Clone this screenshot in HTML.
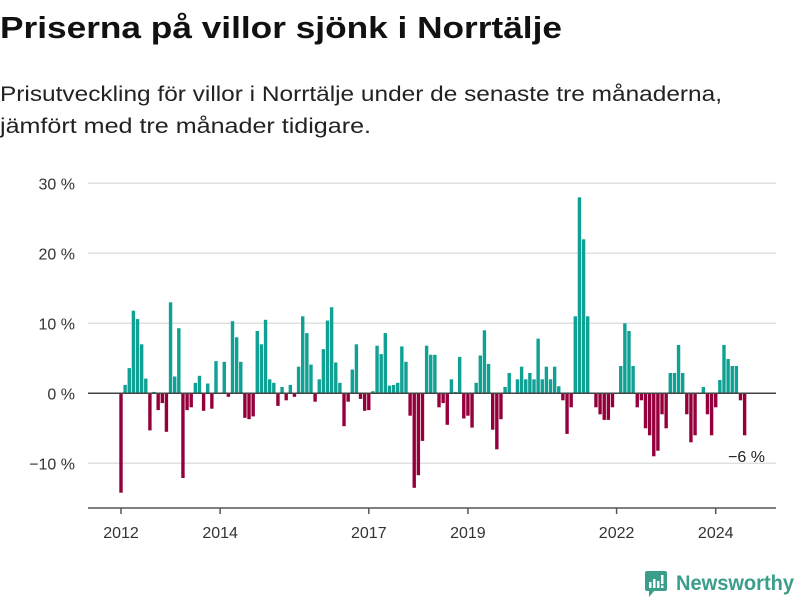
<!DOCTYPE html>
<html><head><meta charset="utf-8"><style>
html,body{margin:0;padding:0;background:#fff;}
svg{display:block;font-family:"Liberation Sans",sans-serif;}
</style></head><body>
<svg id="chart" width="800" height="600" viewBox="0 0 800 600">
<text x="0" y="38" font-size="31" font-weight="bold" fill="#111" textLength="562" lengthAdjust="spacingAndGlyphs">Priserna på villor sjönk i Norrtälje</text>
<text x="0" y="101" font-size="21" fill="#222" textLength="722" lengthAdjust="spacingAndGlyphs">Prisutveckling för villor i Norrtälje under de senaste tre månaderna,</text>
<text x="0" y="133" font-size="21" fill="#222" textLength="371" lengthAdjust="spacingAndGlyphs">jämfört med tre månader tidigare.</text>
<g id="grid"></g>
<g id="bars"></g>
<g id="axes"></g>
<text x="765" y="462" font-size="16" fill="#222" text-anchor="end">−6 %</text>
<g>
<rect x="645" y="571" width="22" height="20" rx="2" fill="#3a9e8a"/>
<polygon points="649,590 655,590 649,597" fill="#3a9e8a"/>
<rect x="649" y="582" width="2.5" height="6" fill="#fff"/><rect x="653" y="579" width="2.5" height="9" fill="#fff"/><rect x="657" y="581" width="2.5" height="7" fill="#fff"/><rect x="661" y="575" width="2.5" height="9" fill="#fff"/><rect x="661" y="585.5" width="2.5" height="2.5" fill="#fff"/>
<text x="676" y="590" font-size="21" font-weight="bold" fill="#3a9e8a" textLength="118" lengthAdjust="spacingAndGlyphs">Newsworthy</text>
</g>
</svg>
<script>
const values = [-14.2,1.2,3.6,11.8,10.6,7.0,2.1,-5.3,0.2,-2.4,-1.4,-5.5,
13.0,2.4,9.3,-12.1,-2.4,-2.0,1.5,2.5,-2.5,1.4,-2.2,4.6,
0,4.5,-0.5,10.3,8.0,4.5,-3.5,-3.7,-3.3,8.9,7.0,10.5,
2.0,1.5,-1.8,0.9,-1.0,1.2,-0.5,3.8,11.0,8.6,4.1,-1.2,
2.0,6.3,10.4,12.3,4.4,1.5,-4.7,-1.2,3.4,7.0,-0.8,-2.5,
-2.4,0.3,6.8,5.6,8.6,1.1,1.2,1.5,6.7,4.5,-3.2,-13.5,
-11.7,-6.8,6.8,5.5,5.5,-2.0,-1.4,-4.5,2.0,0.2,5.2,-3.6,
-3.2,-4.9,1.5,5.4,9.0,4.2,-5.2,-8.0,-3.7,0.9,2.9,0,
2.0,3.8,2.0,2.9,2.0,7.8,2.0,3.8,2.0,3.8,1.0,-1.0,
-5.8,-2.0,11.0,28.0,22.0,11.0,0,-2.0,-3.0,-3.8,-3.8,-2.0,
0,3.9,10.0,8.9,3.9,-2.0,-1.0,-5.0,-6.0,-9.0,-8.2,-3.0,
-5.0,2.9,2.9,6.9,2.9,-3.0,-7.0,-6.0,0,0.9,-3.0,-6.0,
-2.0,1.9,6.9,4.9,3.9,3.9,-1.0,-6.0];
const yTicks = [-10,0,10,20,30];
const yTickLabels = ["−10 %","0 %","10 %","20 %","30 %"];
const xTickYears = [2012,2014,2017,2019,2022,2024];
const startYear = 2012;

const NS="http://www.w3.org/2000/svg";
const x = i => 121 + i*4.13;
const y = v => 393.3 - 7*v;
const yearX = yr => x((yr-startYear)*12);
function mk(tag, attrs, parent){const e=document.createElementNS(NS,tag);for(const k in attrs)e.setAttribute(k,attrs[k]);parent.appendChild(e);return e;}
const grid=document.getElementById('grid'), bars=document.getElementById('bars'), axes=document.getElementById('axes');
yTicks.forEach((t,k)=>{
  if(t!==0){
    const l=mk('line',{x1:88,x2:776,y1:y(t),y2:y(t),stroke:'#e0e0e0','stroke-width':1.5},grid);
    
    
  }
  const tx=mk('text',{x:75,y:y(t)+6,'font-size':16,fill:'#333','text-anchor':'end'},grid);
  tx.textContent=yTickLabels[k];
  
  
});
values.forEach((v,i)=>{
  const r=mk('rect',{x:x(i)-1.7,width:3.4,y:Math.min(y(v),y(0)),height:Math.abs(y(v)-y(0)),fill:v>=0?'#10a195':'#95003c'},bars);
  
  
});
const zl=mk('line',{x1:88,x2:776,y1:y(0),y2:y(0),stroke:'#444','stroke-width':1.5},axes);


const xl=mk('line',{x1:88,x2:776,y1:508,y2:508,stroke:'#555','stroke-width':1.5},axes);


xTickYears.forEach(yr=>{
  const tk=mk('line',{x1:yearX(yr),x2:yearX(yr),y1:508,y2:514,stroke:'#555','stroke-width':1.5},axes);
  
  
  const t=mk('text',{x:yearX(yr),y:538,'font-size':16,fill:'#333','text-anchor':'middle'},axes);
  t.textContent=yr;
  
  
});
</script>
</body></html>
